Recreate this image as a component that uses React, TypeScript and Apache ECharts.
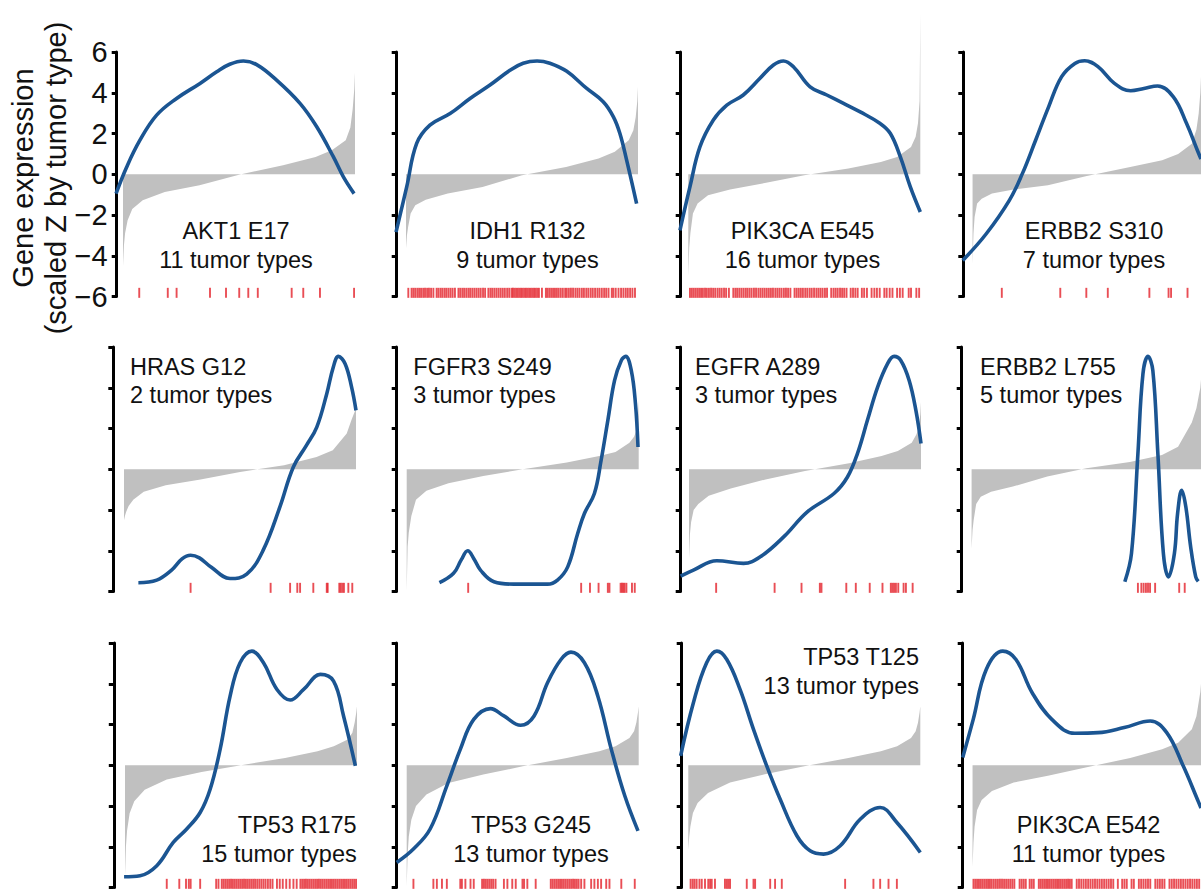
import React, { useEffect, useRef } from "react";
import * as echarts from "echarts";

const FONT = '"Liberation Sans", Arial, Helvetica, sans-serif';

// ---------- text ----------
const PANEL_GENES = [
  "AKT1 E17", "IDH1 R132", "PIK3CA E545", "ERBB2 S310",
  "HRAS G12", "FGFR3 S249", "EGFR A289", "ERBB2 L755",
  "TP53 R175", "TP53 G245", "TP53 T125", "PIK3CA E542",
];
const PANEL_TUMOR_TYPES = [
  "11 tumor types", "9 tumor types", "16 tumor types", "7 tumor types",
  "2 tumor types", "3 tumor types", "3 tumor types", "5 tumor types",
  "15 tumor types", "13 tumor types", "13 tumor types", "11 tumor types",
];
const Y_TITLE = ["Gene expression", "(scaled Z by tumor type)"];
const Y_MIN = -6;
const Y_MAX = 6;
const Y_STEP = 2;
const RUG_Y = -5.82;

// ---------- grey sorted expression profiles (rank percentile -> scaled Z) ----------
const RANK_POS = [0, 0.4, 0.9, 2, 4, 8.5, 18, 33, 50, 69, 83, 90, 96, 98, 99, 99.7, 100];
const GREY_AKT1_E17 = [-4.5, -3.5, -2.9, -2.26, -1.7, -1.28, -0.87, -0.54, -0.02, 0.44, 0.85, 1.18, 1.67, 2.3, 3.2, 4.2, 5.0];
const GREY_IDH1_R132 = [-3.65, -3.0, -2.6, -1.93, -1.52, -1.25, -0.95, -0.62, -0.05, 0.36, 0.77, 1.1, 1.67, 2.16, 2.8, 3.6, 4.3];
const GREY_PIK3CA_E545 = [-5.0, -3.6, -2.9, -1.93, -1.44, -1.03, -0.75, -0.43, -0.05, 0.28, 0.6, 0.85, 1.34, 1.84, 2.5, 3.6, 7.9];
const GREY_ERBB2_S310 = [-4.4, -2.9, -2.1, -1.44, -1.2, -0.95, -0.75, -0.54, -0.08, 0.36, 0.69, 1.0, 1.5, 2.2, 3.0, 4.0, 4.8];
const GREY_HRAS_G12 = [-2.5, -2.3, -2.1, -1.8, -1.5, -1.1, -0.78, -0.5, -0.13, 0.2, 0.6, 0.93, 1.75, 2.4, 2.7, 2.9, 3.0];
const GREY_FGFR3_S249 = [-6.0, -3.8, -3.1, -2.3, -1.5, -1.06, -0.69, -0.33, 0.0, 0.33, 0.65, 0.85, 1.3, 1.6, 1.9, 2.6, 3.4];
const GREY_EGFR_A289 = [-4.4, -3.2, -2.6, -2.0, -1.7, -1.3, -0.95, -0.5, -0.08, 0.3, 0.65, 0.9, 1.3, 1.7, 2.0, 2.7, 3.3];
const GREY_ERBB2_L755 = [-3.9, -3.0, -2.5, -1.7, -1.35, -1.1, -0.85, -0.35, 0.05, 0.35, 0.7, 1.1, 2.3, 3.0, 3.6, 4.0, 4.4];
const GREY_TP53_R175 = [-5.45, -4.0, -3.2, -2.35, -1.77, -1.2, -0.7, -0.33, 0.0, 0.36, 0.69, 0.93, 1.26, 1.6, 2.1, 2.6, 2.9];
const GREY_TP53_G245 = [-5.95, -4.4, -3.5, -2.67, -2.0, -1.44, -0.87, -0.46, -0.05, 0.36, 0.69, 0.93, 1.34, 1.67, 2.1, 2.6, 2.9];
const GREY_TP53_T125 = [-4.15, -3.5, -3.0, -2.34, -1.85, -1.36, -0.85, -0.44, -0.05, 0.36, 0.69, 0.93, 1.34, 1.67, 2.08, 2.6, 2.9];
const GREY_PIK3CA_E542 = [-5.0, -3.8, -3.0, -2.2, -1.7, -1.26, -0.85, -0.52, -0.1, 0.36, 0.79, 1.1, 1.77, 2.4, 3.1, 3.6, 4.0];

// ---------- density curves [rank percentile, scaled value] ----------
const CURVE_AKT1_E17 = [[-3, -0.95], [1.6, 0.36], [7.3, 1.67], [14.5, 2.9], [23.1, 3.72], [33.2, 4.46], [40.4, 5.03], [46, 5.4], [51.9, 5.56], [57.6, 5.38], [66.2, 4.62], [76.3, 3.48], [83.5, 2.33], [90.7, 0.85], [95, -0.13], [99.6, -0.95]];
const CURVE_IDH1_R132 = [[-4.3, -2.84], [0.3, -0.62], [4.6, 1.51], [10.3, 2.41], [19, 2.98], [27.6, 3.72], [36.2, 4.38], [44.8, 5.1], [50.5, 5.45], [56.5, 5.56], [62, 5.45], [69.3, 5.05], [77.9, 4.21], [85, 3.56], [89.4, 2.82], [92.2, 2.0], [95.1, 0.69], [99.4, -1.44]];
const CURVE_PIK3CA_E545 = [[-3.6, -2.75], [0.7, -0.62], [5, 1.34], [10.8, 2.66], [16.6, 3.39], [23.7, 3.89], [30.9, 4.71], [36.7, 5.36], [41, 5.56], [45.3, 5.28], [52.5, 4.29], [59.7, 3.89], [66.9, 3.48], [74.1, 3.06], [82.7, 2.49], [87.1, 2.0], [91.4, 0.85], [95.7, -0.62], [100, -1.85]];
const CURVE_ERBB2_S310 = [[-4.3, -4.23], [6, -2.92], [16.1, -1.28], [21.8, 0.03], [27.6, 1.67], [33.3, 3.31], [39, 4.79], [44.8, 5.44], [49.1, 5.57], [54.9, 5.28], [62.1, 4.46], [69.2, 4.1], [75, 4.21], [81, 4.33], [87.9, 3.8], [93.7, 2.49], [98.4, 1.18], [100, 0.75]];
const CURVE_HRAS_G12 = [[6.2, -5.57], [14.1, -5.44], [20.5, -4.95], [25, -4.4], [28.7, -4.22], [32.5, -4.35], [37.5, -4.8], [45.7, -5.36], [52.9, -5.15], [60, -3.97], [67.2, -1.85], [73, 0.11], [78.7, 1.18], [83.1, 2.07], [87.4, 3.71], [90.2, 5.01], [92.4, 5.54], [95.3, 5.18], [98.1, 4.03], [100, 2.89]];
const CURVE_FGFR3_S249 = [[14.1, -5.57], [20.2, -5.11], [23.5, -4.45], [26.3, -4.0], [29, -4.4], [31.8, -4.95], [37.6, -5.52], [46.2, -5.64], [60.7, -5.64], [65, -5.44], [69.4, -4.79], [73.7, -3.15], [76.6, -2.17], [80.9, -1.19], [83.8, 0.44], [86.7, 2.4], [89.6, 4.36], [92.5, 5.34], [94.4, 5.54], [96.8, 4.85], [98.6, 3.22], [99.7, 1.09]];
const CURVE_EGFR_A289 = [[-3.6, -5.25], [1.9, -4.95], [12, -4.49], [23.5, -4.62], [30.7, -4.3], [40.8, -3.32], [51, -2.09], [62.5, -1.19], [68.3, -0.38], [72.6, 0.77], [76.9, 2.4], [81.3, 4.03], [85.6, 5.18], [88.4, 5.54], [91.3, 5.34], [94.9, 4.36], [97.8, 2.89], [100, 1.26]];
const CURVE_ERBB2_L755 = [[66.8, -5.52], [69.7, -4.13], [72.5, 0.77], [74.7, 4.69], [76.9, 5.54], [79, 4.85], [81.2, 0.77], [83.6, -4.13], [85.8, -5.28], [88.4, -4.13], [89.8, -2.17], [91.6, -1.03], [93.4, -1.85], [95.5, -3.81], [97.7, -5.28], [98.8, -5.5]];
const CURVE_TP53_R175 = [[-0.4, -5.47], [6.5, -5.42], [13.7, -4.93], [20.8, -3.79], [26.6, -3.13], [32.4, -2.32], [36.7, -1.18], [41, 0.78], [45.3, 3.39], [49.6, 5.03], [54.7, 5.6], [59.7, 5.03], [65.5, 3.72], [71.2, 3.2], [77, 3.72], [84.2, 4.46], [89.9, 4.13], [94.2, 2.42], [99.3, -0.03]];
const CURVE_TP53_G245 = [[-4.3, -4.77], [2.9, -4.11], [10.1, -3.13], [17.3, -1.01], [23.1, 0.78], [28.9, 2.25], [36.1, 2.78], [41.9, 2.42], [49.1, 1.96], [54.9, 2.42], [60.7, 4.05], [66.5, 5.19], [70.8, 5.55], [76.6, 5.03], [82.4, 3.39], [88.2, 0.78], [94, -1.5], [99.7, -3.22]];
const CURVE_TP53_T125 = [[-3.3, 0.46], [2.2, 3.07], [7.9, 5.03], [12.3, 5.6], [16.6, 5.19], [22.3, 3.72], [28.1, 1.76], [33.8, -0.03], [39.6, -1.67], [46.8, -3.46], [52.5, -4.2], [58.3, -4.36], [65.5, -3.95], [74.1, -2.65], [82.7, -2.07], [89.9, -2.81], [100, -4.28]];
const CURVE_PIK3CA_E542 = [[-4.3, 0.38], [0.3, 2.25], [6, 4.7], [13.2, 5.6], [19, 5.19], [26.1, 3.56], [34.7, 2.25], [44.8, 1.57], [54.9, 1.6], [66.4, 1.85], [77.8, 2.17], [85, 1.6], [92.2, -0.03], [98.4, -1.67], [100, -2.1]];

// ---------- rug (rank percentiles of mutated samples) ----------
const RUG_AKT1_E17 = [7.0, 19.3, 23.1, 37.5, 44.4, 50.1, 54.0, 58.1, 72.7, 77.7, 84.9, 99.6];
const RUG_IDH1_R132 = [1.0, 2.4, 3.2, 4.0, 4.9, 5.7, 6.5, 7.4, 8.2, 9.1, 9.9, 10.8, 11.8, 13.2, 14.0, 14.9, 15.7, 16.6, 17.4, 18.3, 19.2, 20.1, 21.1, 22.6, 23.4, 24.3, 25.1, 26.0, 26.9, 27.7, 28.6, 29.5, 30.4, 31.3, 32.2, 33.2, 34.1, 35.5, 36.4, 37.2, 38.1, 39.0, 39.9, 40.8, 41.7, 42.6, 43.6, 44.5, 45.5, 46.1, 46.8, 47.5, 48.2, 48.9, 49.6, 50.3, 51.0, 51.7, 52.4, 53.1, 53.8, 54.5, 55.2, 55.9, 56.6, 57.3, 58.6, 60.3, 61.0, 61.8, 62.6, 63.4, 64.2, 65.0, 65.8, 66.7, 67.6, 68.6, 69.3, 70.2, 71.1, 72.0, 73.0, 73.9, 74.8, 75.8, 76.7, 77.7, 78.6, 79.6, 80.5, 81.5, 82.5, 83.4, 84.4, 85.4, 86.3, 87.3, 88.7, 89.4, 90.4, 91.6, 92.7, 93.7, 94.7, 95.6, 96.6, 97.6, 98.7];
const RUG_PIK3CA_E545 = [0.7, 1.5, 2.3, 3.1, 3.9, 4.7, 5.5, 6.3, 7.2, 8.0, 8.9, 9.8, 10.7, 11.6, 12.6, 13.5, 14.4, 15.4, 16.3, 17.5, 19.4, 20.3, 21.1, 22.0, 22.9, 23.8, 24.7, 25.5, 26.4, 27.3, 28.3, 29.2, 30.2, 31.1, 32.0, 32.9, 33.8, 34.7, 35.6, 36.5, 37.5, 38.4, 39.3, 40.2, 41.2, 42.1, 43.0, 44.0, 45.8, 46.7, 47.6, 48.5, 49.4, 50.4, 51.3, 52.3, 53.2, 54.2, 55.2, 56.1, 57.0, 57.9, 58.9, 59.8, 61.6, 62.6, 63.5, 64.4, 65.4, 66.3, 67.2, 68.2, 70.0, 71.0, 72.0, 73.0, 74.8, 75.8, 77.0, 79.0, 80.2, 81.3, 82.5, 84.5, 85.5, 86.8, 88.0, 90.0, 91.2, 92.4, 95.0, 96.0, 98.3, 99.5];
const RUG_ERBB2_S310 = [12.8, 38.4, 49.8, 59.2, 77.4, 85.8, 86.9, 94.1];
const RUG_HRAS_G12 = [28.7, 63.2, 71.6, 74.7, 75.9, 81.6, 87.4, 87.8, 92.8, 93.4, 94.1, 94.8, 96.7, 98.4];
const RUG_FGFR3_S249 = [26.5, 75.2, 79.0, 82.7, 86.7, 87.4, 92.2, 92.8, 93.4, 93.9, 94.7, 97.1, 98.3];
const RUG_EGFR_A289 = [11.7, 36.9, 48.5, 56.4, 57.1, 67.8, 71.9, 77.9, 83.4, 87.0, 87.7, 88.4, 89.2, 90.2, 92.5, 93.5, 96.4];
const RUG_ERBB2_L755 = [72.5, 74.0, 75.0, 76.0, 76.9, 77.8, 80.0, 90.5, 92.9];
const RUG_TP53_R175 = [18.0, 23.4, 26.3, 27.5, 28.3, 32.4, 39.3, 40.3, 41.7, 42.5, 43.3, 44.1, 44.9, 45.7, 46.5, 47.3, 48.1, 48.9, 49.7, 50.5, 51.3, 52.1, 52.9, 53.7, 54.5, 55.3, 56.1, 57.0, 57.9, 58.8, 59.7, 60.6, 61.6, 62.6, 63.6, 65.5, 66.7, 68.0, 69.5, 71.0, 72.6, 74.0, 75.6, 76.4, 77.2, 78.0, 78.8, 79.6, 80.4, 81.2, 82.0, 82.8, 83.6, 84.4, 85.2, 86.0, 86.8, 87.6, 88.4, 89.2, 90.0, 90.8, 91.6, 92.4, 93.2, 94.0, 94.8, 95.6, 96.4, 97.2, 98.0, 98.8, 99.6];
const RUG_TP53_G245 = [2.9, 11.5, 13.0, 15.2, 17.3, 23.1, 23.8, 25.3, 27.5, 28.9, 32.5, 33.3, 34.1, 34.9, 35.7, 36.5, 37.3, 38.3, 41.9, 43.4, 45.5, 47.0, 49.9, 50.6, 52.0, 55.6, 62.1, 62.9, 63.7, 64.5, 65.3, 66.1, 66.9, 67.7, 68.5, 69.3, 70.1, 70.9, 71.7, 72.5, 73.3, 74.1, 75.2, 76.6, 79.5, 80.9, 82.4, 83.8, 86.0, 87.4, 92.5, 98.3];
const RUG_TP53_T125 = [1.0, 1.9, 2.7, 3.6, 4.8, 5.8, 7.2, 8.6, 9.4, 10.1, 11.5, 15.8, 16.6, 17.3, 18.0, 25.2, 28.1, 28.8, 35.3, 37.4, 40.3, 67.6, 79.8, 82.7, 86.3, 89.9];
const RUG_PIK3CA_E542 = [0.4, 1.2, 2.0, 2.8, 3.6, 4.4, 5.2, 6.0, 6.8, 7.6, 8.4, 9.3, 10.2, 11.1, 12.0, 12.9, 13.8, 14.7, 15.6, 16.5, 17.4, 18.3, 20.6, 21.5, 22.4, 23.3, 25.0, 25.9, 26.8, 29.0, 29.8, 30.6, 31.4, 32.2, 33.0, 33.8, 34.6, 35.4, 36.2, 37.0, 37.8, 38.6, 39.4, 40.2, 41.0, 41.8, 42.6, 43.4, 45.6, 46.6, 47.6, 48.6, 49.6, 50.6, 51.6, 52.6, 53.6, 54.6, 55.6, 56.6, 57.6, 58.6, 59.6, 60.6, 61.6, 63.6, 65.5, 66.5, 67.5, 69.6, 70.6, 72.8, 73.8, 74.8, 75.8, 76.8, 77.8, 80.0, 81.0, 82.0, 83.0, 84.0, 86.2, 87.2, 88.2, 89.2, 90.2, 91.2, 92.2, 93.2, 94.2, 95.2, 96.2, 97.2, 98.2, 99.2];

const GREY = [GREY_AKT1_E17, GREY_IDH1_R132, GREY_PIK3CA_E545, GREY_ERBB2_S310, GREY_HRAS_G12, GREY_FGFR3_S249, GREY_EGFR_A289, GREY_ERBB2_L755, GREY_TP53_R175, GREY_TP53_G245, GREY_TP53_T125, GREY_PIK3CA_E542];
const CURVES = [CURVE_AKT1_E17, CURVE_IDH1_R132, CURVE_PIK3CA_E545, CURVE_ERBB2_S310, CURVE_HRAS_G12, CURVE_FGFR3_S249, CURVE_EGFR_A289, CURVE_ERBB2_L755, CURVE_TP53_R175, CURVE_TP53_G245, CURVE_TP53_T125, CURVE_PIK3CA_E542];
const RUGS = [RUG_AKT1_E17, RUG_IDH1_R132, RUG_PIK3CA_E545, RUG_ERBB2_S310, RUG_HRAS_G12, RUG_FGFR3_S249, RUG_EGFR_A289, RUG_ERBB2_L755, RUG_TP53_R175, RUG_TP53_G245, RUG_TP53_T125, RUG_PIK3CA_E542];

// ---------- layout (pixels) ----------
const AXIS_X = [[116.7, 396.7, 680.7, 963.3], [113.3, 396.7, 680.7, 961.7], [113.8, 396.7, 681.7, 962.7]];
const GREY_X0 = [[123, 406, 688.3, 972.7], [124, 406.7, 689, 971.7], [125, 406.7, 688.3, 972.7]];
const UNIT_PX = 2.32;
const ROW_TOP = [52, 347, 643];
const ROW_H = 244.5;
const LABEL_LAYOUT = [
  { x: 236, y1: 231.3, y2: 259.8, align: "center" },
  { x: 527.5, y1: 231.3, y2: 259.8, align: "center" },
  { x: 802.5, y1: 231.3, y2: 259.8, align: "center" },
  { x: 1094, y1: 231.3, y2: 259.8, align: "center" },
  { x: 130, y1: 366.8, y2: 395.1, align: "left" },
  { x: 413.3, y1: 366.8, y2: 395.1, align: "left" },
  { x: 695, y1: 366.8, y2: 395.1, align: "left" },
  { x: 980, y1: 366.8, y2: 395.1, align: "left" },
  { x: 356.7, y1: 825.1, y2: 853.5, align: "right" },
  { x: 531, y1: 825.1, y2: 853.5, align: "center" },
  { x: 919, y1: 656.8, y2: 686.1, align: "right" },
  { x: 1088.5, y1: 825.1, y2: 853.5, align: "center" },
];

const BLUE = "#1b5592";
const GREY_FILL = "#c0c0c0";
const RED = "#e3222b";
const LABEL_SIZE = 23.5;

function buildOption() {
  const grid: any[] = [];
  const xAxis: any[] = [];
  const yAxis: any[] = [];
  const series: any[] = [];
  const graphic: any[] = [];

  for (let i = 0; i < 12; i++) {
    const r = Math.floor(i / 4);
    const c = i % 4;
    const ax = AXIS_X[r][c];
    const g0 = GREY_X0[r][c];
    grid.push({ left: ax, top: ROW_TOP[r], width: g0 + 100 * UNIT_PX - ax, height: ROW_H, containLabel: false });
    xAxis.push({ gridIndex: i, type: "value", min: (ax - g0) / UNIT_PX, max: 100, show: false });
    yAxis.push({
      gridIndex: i,
      type: "value",
      min: Y_MIN,
      max: Y_MAX,
      interval: Y_STEP,
      axisLine: { show: true, onZero: false, lineStyle: { color: "#000", width: 3 } },
      axisTick: { show: true, inside: false, length: 5, lineStyle: { color: "#000", width: 3 } },
      splitLine: { show: false },
      axisLabel: {
        show: i === 0,
        fontSize: 29,
        fontFamily: FONT,
        color: "#111",
        margin: 9,
        formatter: (v: number) => String(v).replace("-", "\u2212"),
      },
    });
    series.push({
      type: "line",
      xAxisIndex: i,
      yAxisIndex: i,
      data: RANK_POS.map((p, k) => [p, GREY[i][k]]),
      symbol: "none",
      lineStyle: { width: 0, opacity: 0 },
      areaStyle: { color: GREY_FILL, opacity: 1, origin: "auto" },
      clip: false,
      silent: true,
      z: 1,
    });
    series.push({
      type: "scatter",
      xAxisIndex: i,
      yAxisIndex: i,
      data: RUGS[i].map((p) => [p, RUG_Y]),
      symbol: "rect",
      symbolSize: [1.9, 10],
      itemStyle: { color: RED },
      silent: true,
      z: 2,
    });
    series.push({
      type: "line",
      xAxisIndex: i,
      yAxisIndex: i,
      data: CURVES[i],
      symbol: "none",
      smooth: 0.4,
      lineStyle: { color: BLUE, width: 3.6 },
      clip: true,
      silent: true,
      z: 3,
    });
    const L = LABEL_LAYOUT[i];
    graphic.push({
      type: "text",
      x: L.x,
      y: L.y1,
      z: 10,
      style: { text: PANEL_GENES[i], fontSize: LABEL_SIZE, fontFamily: FONT, fill: "#111", align: L.align, verticalAlign: "middle" },
    });
    graphic.push({
      type: "text",
      x: L.x,
      y: L.y2,
      z: 10,
      style: { text: PANEL_TUMOR_TYPES[i], fontSize: LABEL_SIZE, fontFamily: FONT, fill: "#111", align: L.align, verticalAlign: "middle" },
    });
  }

  graphic.push({
    type: "text",
    x: 23,
    y: 178,
    rotation: Math.PI / 2,
    style: { text: Y_TITLE[0], fontSize: 29, fontFamily: FONT, fill: "#111", align: "center", verticalAlign: "middle" },
  });
  graphic.push({
    type: "text",
    x: 56,
    y: 178,
    rotation: Math.PI / 2,
    style: { text: Y_TITLE[1], fontSize: 29, fontFamily: FONT, fill: "#111", align: "center", verticalAlign: "middle" },
  });

  return { animation: false, backgroundColor: "#fff", grid, xAxis, yAxis, series, graphic };
}

export default function App() {
  const ref = useRef<HTMLDivElement>(null);
  useEffect(() => {
    if (!ref.current) return;
    const chart = echarts.init(ref.current, undefined, { renderer: "svg" });
    chart.setOption(buildOption() as any);
    return () => chart.dispose();
  }, []);
  return (
    <div
      ref={ref}
      style={{ position: "fixed", left: 0, top: 0, width: 1201, height: 890, background: "#fff" }}
    />
  );
}
